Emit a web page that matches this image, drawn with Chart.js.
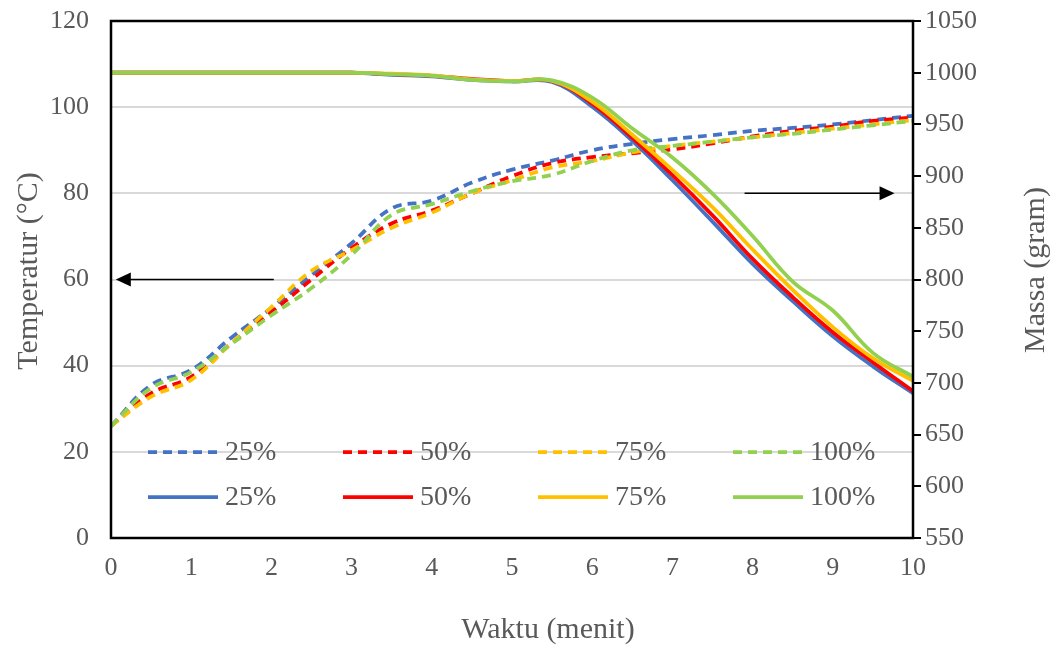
<!DOCTYPE html>
<html>
<head>
<meta charset="utf-8">
<script src="https://cdn.jsdelivr.net/npm/chart.js@4/dist/chart.umd.min.js"></script>
<style>
  html, body { margin: 0; padding: 0; background: #fff; }
  #chart { display: block; }
</style>
</head>
<body>
<canvas id="chart" width="1053" height="645"></canvas>
<script>
// Time axis (minutes)
const waktu = [0, 0.5, 1, 1.5, 2, 2.5, 3, 3.5, 4, 4.5, 5, 5.5, 6, 6.5, 7, 7.5, 8, 8.5, 9, 9.5, 10];

// Temperature (°C) per load
const suhu25 = [26, 35.5, 39, 46.5, 53.4, 61, 68.4, 76.5, 78.3, 82.5, 85.5, 87.6, 90, 91.5, 92.6, 93.5, 94.5, 95.2, 96, 97, 98];
const suhu50 = [26, 33.6, 37.4, 45.2, 52.4, 60, 67.3, 73, 76, 80, 84, 87, 88.4, 89.3, 90.2, 91.6, 93.2, 94.5, 95.5, 96.8, 97.6];
const suhu75 = [26, 32.8, 36.7, 45.2, 53.6, 62, 66.8, 72, 75.5, 80, 83, 86, 87.5, 89.5, 91, 92, 93, 94, 95, 96, 97];
const suhu100 = [26, 34.8, 38.5, 45, 51.7, 58, 65.7, 75, 77.5, 80.5, 82.8, 84.3, 87.5, 90, 91, 92, 93, 93.8, 94.8, 95.8, 96.8];

// Mass (gram) per load
const massa25 = [1000, 1000, 1000, 1000, 1000, 1000, 1000, 998, 996.5, 993, 991.5, 991, 967, 934, 896, 856, 815, 779, 745, 716, 690];
const massa50 = [1000, 1000, 1000, 1000, 1000, 1000, 1000, 998.5, 997, 994, 992, 992, 970, 937, 901, 862, 820, 783, 749, 720, 692];
const massa75 = [1000, 1000, 1000, 1000, 1000, 1000, 1000, 999, 997.5, 993.5, 992, 992, 972, 940, 906, 870, 829, 790, 754, 724, 702];
const massa100 = [1000, 1000, 1000, 1000, 1000, 1000, 1000, 998.5, 997, 993, 991.5, 992.5, 976, 946, 918, 883, 842, 798, 770, 729, 706];

const seriesLabels = ['25%', '50%', '75%', '100%'];
const seriesColors = ['#4472C4', '#FF0000', '#FFC000', '#92D050'];

const FONT = "'Liberation Serif', 'Times New Roman', serif";
const GREY = '#595959';

function makeSet(label, data, color, dashed, axis) {
    return {
        label: label,
        data: data,
        borderColor: color,
        backgroundColor: color,
        borderWidth: 3.75,
        borderDash: dashed ? [9, 6] : [],
        pointRadius: 0,
        tension: 0.4,
        fill: false,
        yAxisID: axis
    };
}

const temps = [suhu25, suhu50, suhu75, suhu100];
const masses = [massa25, massa50, massa75, massa100];
const datasets = [];
temps.forEach((d, i) => datasets.push(makeSet(seriesLabels[i], d, seriesColors[i], true, 'y')));
masses.forEach((d, i) => datasets.push(makeSet(seriesLabels[i], d, seriesColors[i], false, 'y1')));
// later series sit on top
datasets.forEach((ds, i) => { ds.order = datasets.length - i; });

// frame, arrows, legend and axis titles
const decorations = {
    id: 'decorations',
    afterDatasetsDraw(chart) {
        const ctx = chart.ctx;
        const a = chart.chartArea;
        const x = chart.scales.x;
        const y = chart.scales.y;

        ctx.save();
        ctx.strokeStyle = '#000';
        ctx.lineWidth = 2.5;
        ctx.strokeRect(a.left, a.top, a.right - a.left, a.bottom - a.top);

        // arrows pointing to the axis each family belongs to
        const arrow = (t0, t1, v) => {
            const x0 = x.getPixelForValue(t0);
            const x1 = x.getPixelForValue(t1);
            const py = y.getPixelForValue(v);
            const dir = Math.sign(x1 - x0);
            ctx.beginPath();
            ctx.moveTo(x0, py);
            ctx.lineTo(x1 - dir * 14, py);
            ctx.lineWidth = 1.5;
            ctx.stroke();
            ctx.beginPath();
            ctx.moveTo(x1, py);
            ctx.lineTo(x1 - dir * 15, py - 7);
            ctx.lineTo(x1 - dir * 15, py + 7);
            ctx.closePath();
            ctx.fillStyle = '#000';
            ctx.fill();
        };
        arrow(2.03, 0.06, 60);
        arrow(7.9, 9.77, 80);
        ctx.restore();
    },
    afterDraw(chart) {
        const ctx = chart.ctx;
        ctx.save();

        // legend, two rows inside the plot
        const cols = [148, 343, 538, 733];
        const rows = [452, 497];
        ctx.font = '28px ' + FONT;
        ctx.textBaseline = 'middle';
        ctx.textAlign = 'left';
        chart.data.datasets.forEach((ds, i) => {
            const cx = cols[i % 4];
            const cy = rows[Math.floor(i / 4)];
            ctx.beginPath();
            ctx.setLineDash(ds.borderDash);
            ctx.strokeStyle = ds.borderColor;
            ctx.lineWidth = ds.borderWidth;
            ctx.moveTo(cx, cy);
            ctx.lineTo(cx + 70, cy);
            ctx.stroke();
            ctx.setLineDash([]);
            ctx.fillStyle = GREY;
            ctx.fillText(ds.label, cx + 77, cy + 1);
        });

        // axis titles
        ctx.font = '30px ' + FONT;
        ctx.fillStyle = GREY;
        ctx.textAlign = 'center';
        ctx.fillText('Waktu (menit)', 548, 630);

        ctx.save();
        ctx.translate(29, 271);
        ctx.rotate(-Math.PI / 2);
        ctx.fillText('Temperatur (°C)', 0, 0);
        ctx.restore();

        ctx.save();
        ctx.translate(1036, 270);
        ctx.rotate(-Math.PI / 2);
        ctx.fillText('Massa (gram)', 0, 0);
        ctx.restore();

        ctx.restore();
    }
};

const tickFont = { family: FONT, size: 26 };

// fixed axis sizes so the plot area lands where it should
function fixWidth(w) {
    return scale => {
        scale.width = w;
        scale.paddingTop = 0;
        scale.paddingBottom = 0;
    };
}

new Chart(document.getElementById('chart'), {
    type: 'line',
    data: { labels: waktu, datasets: datasets },
    options: {
        responsive: false,
        animation: false,
        events: [],
        layout: { padding: { top: 21, left: 0, right: 0, bottom: 0 } },
        plugins: {
            legend: { display: false },
            tooltip: { enabled: false }
        },
        scales: {
            x: {
                type: 'linear',
                min: 0,
                max: 10,
                ticks: { stepSize: 1, color: GREY, font: tickFont, padding: 15, maxRotation: 0 },
                grid: { display: false, drawTicks: false },
                border: { display: false },
                afterFit(scale) { scale.height = 107; }
            },
            y: {
                position: 'left',
                min: 0,
                max: 120,
                ticks: { stepSize: 20, color: GREY, font: tickFont, padding: 22 },
                grid: { color: '#D9D9D9', lineWidth: 2, drawTicks: false },
                border: { display: false },
                afterFit: fixWidth(111)
            },
            y1: {
                position: 'right',
                min: 550,
                max: 1050,
                ticks: { stepSize: 50, color: GREY, font: tickFont, padding: 4, callback: v => String(v) },
                grid: { drawOnChartArea: false, drawTicks: true, tickLength: 8, color: '#000', lineWidth: 2 },
                border: { display: false },
                afterFit: fixWidth(140)
            }
        }
    },
    plugins: [decorations]
});
</script>
</body>
</html>
